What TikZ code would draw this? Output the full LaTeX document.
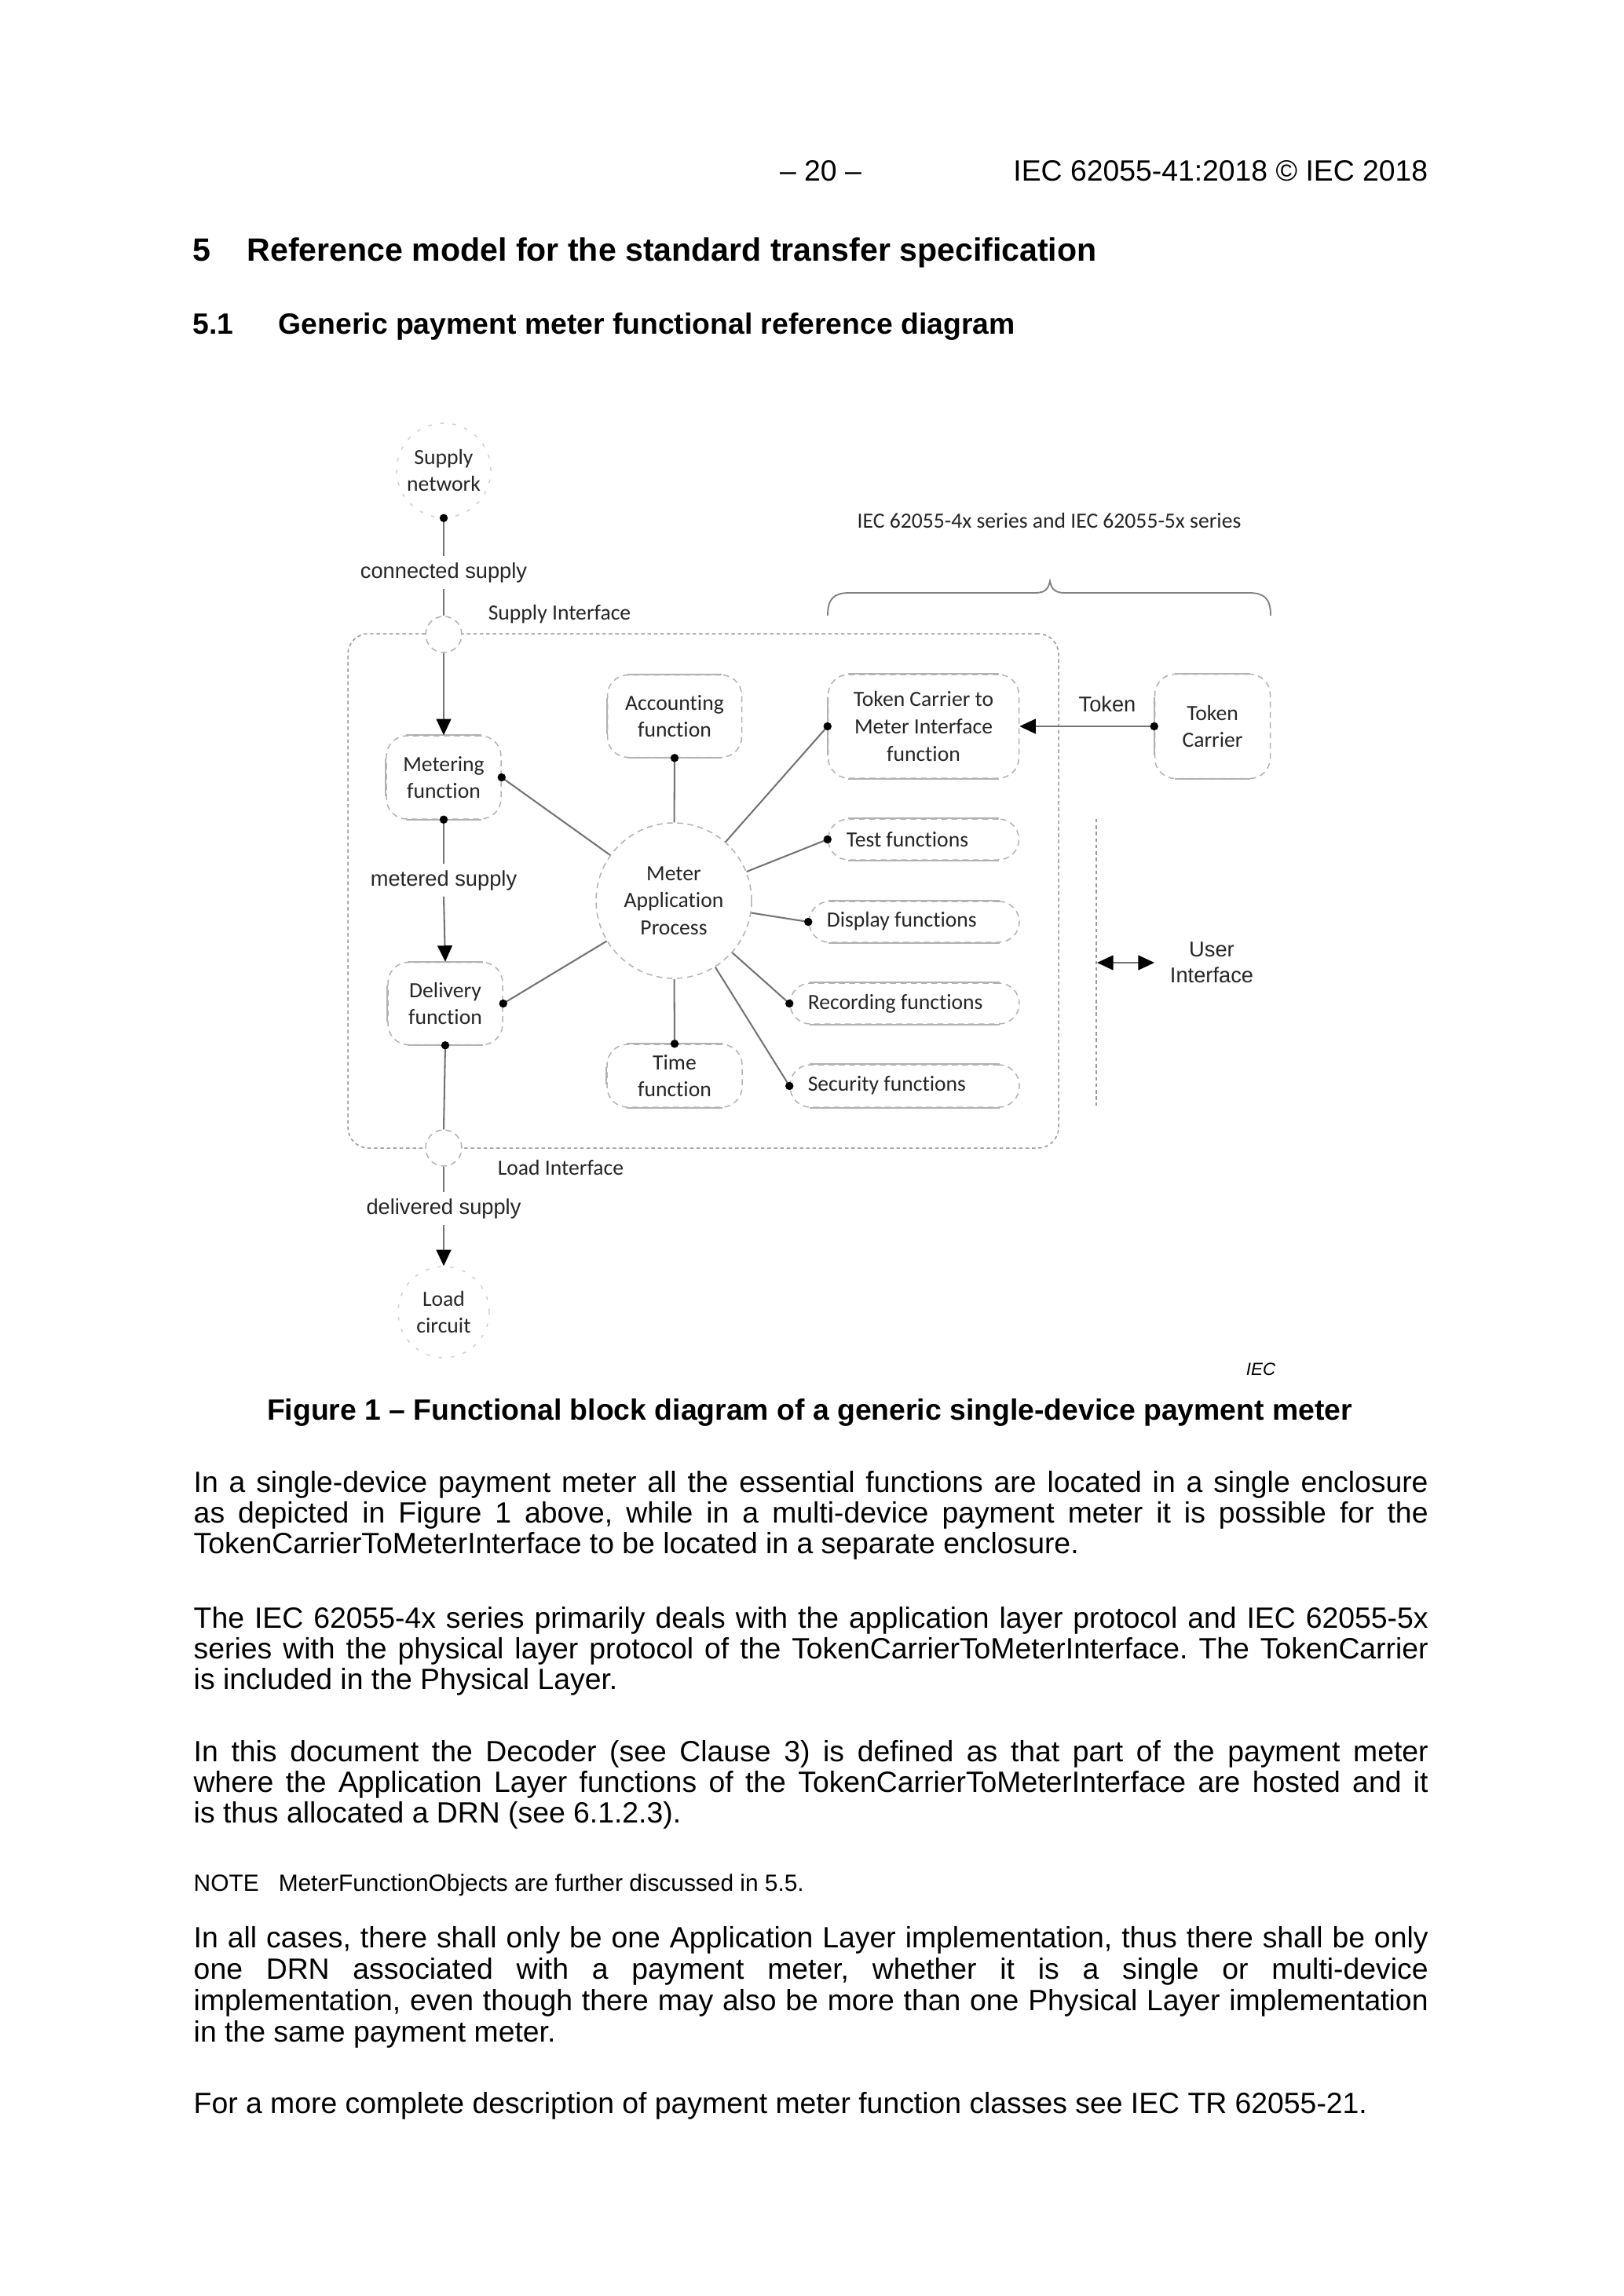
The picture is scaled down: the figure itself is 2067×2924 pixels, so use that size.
\documentclass[tikz,border=0pt]{standalone}
\usepackage{fontspec}
\setmainfont{Liberation Sans}
\newfontfamily\calfont[Ligatures={NoCommon,NoContextual}]{Carlito}
\usetikzlibrary{arrows.meta}
\frenchspacing
\def\u{0.2678pt}
\newcommand\jline[1]{\makebox[421pt][s]{#1}}
\newcommand\sedges[1]{\draw[edgeln] ([xshift=7pt]#1.north west) -- ([xshift=-7pt]#1.north east) ([xshift=7pt]#1.south west) -- ([xshift=-7pt]#1.south east);}
\newcommand\ledge[1]{\draw[edgeln] ([yshift=-8pt]#1.north west) -- ([yshift=8pt]#1.south west);}
\begin{document}
\begin{tikzpicture}[x=0.2678pt,y=-0.2678pt,
  body/.style={inner sep=0pt, font=\fontsize{10}{12}\selectfont},
  conn/.style={draw=black!55, line width=0.55pt},
  arr/.style={-{Triangle[length=5.5pt,width=5pt,color=black]}},
  fn/.style={draw=black!30, dash pattern=on 2pt off 1.5pt, line width=0.4pt, rounded corners=7pt, align=center,
     font=\calfont\fontsize{7.4}{9.3}\selectfont, text=black!85, inner sep=0pt},
  ring/.style={circle, draw=black!30, dash pattern=on 2pt off 1.5pt, line width=0.4pt, inner sep=0pt, align=center,
     font=\calfont\fontsize{7.4}{9.3}\selectfont, text=black!85},
  faint/.style={draw=black!18, dash pattern=on 1.2pt off 3pt},
  albl/.style={font=\fontsize{7.3}{8.9}\selectfont, inner sep=2pt, align=center, text=black!85},
  clbl/.style={font=\calfont\fontsize{7.4}{9.3}\selectfont, inner sep=0pt, text=black!85},
  edgeln/.style={draw=black!30, line width=0.5pt},
  dotc/.style={fill=black}
]
\useasboundingbox (0,0) rectangle (2067,2924);
\fill[white] (0,0) rectangle (2067,2924);

% ---------- page header and headings ----------
\node[body, anchor=base] (pg) at (1045,231) {\textendash\ 20 \textendash};
\node[body, anchor=base east] (hdr) at (1819,231) {IEC 62055-41:2018 \textcopyright\ IEC 2018};
\node[body, anchor=base west, font=\fontsize{11}{13}\selectfont\bfseries] (h5n) at (245,333) {5};
\node[body, anchor=base west, font=\fontsize{11}{13}\selectfont\bfseries] (h5) at (314,333) {Reference model for the standard transfer specification};
\node[body, anchor=base west, font=\fontsize{10}{12}\selectfont\bfseries] (h51n) at (245,426) {5.1};
\node[body, anchor=base west, font=\fontsize{10}{12}\selectfont\bfseries] (h51) at (354,426) {Generic payment meter functional reference diagram};

% ---------- diagram ----------
\node[fn, draw=black!40, dash pattern=on 1.2pt off 1pt, rounded corners=7pt, minimum width=905*\u, minimum height=655*\u] (encl) at (895.5,1134.5) {};

\node[ring, faint, minimum size=120*\u] (sn) at (565,599) {Supply\\network};
\node[ring, fill=white, minimum size=46*\u] (si) at (565,808) {};
\node[ring, fill=white, minimum size=46*\u] (li) at (565,1462) {};
\node[ring, faint, minimum size=116*\u] (lc) at (565,1671) {Load\\circuit};
\node[ring, minimum size=198*\u] (map) at (858,1147) {Meter\\Application\\Process};

\node[fn, minimum width=146*\u, minimum height=106*\u] (met) at (565,990) {Metering\\function};
\node[fn, minimum width=146*\u, minimum height=105*\u] (del) at (567,1278) {Delivery\\function};
\node[fn, minimum width=171*\u, minimum height=105*\u] (acc) at (859,912) {Accounting\\function};
\node[fn, minimum width=172*\u, minimum height=80*\u] (time) at (859,1370) {Time\\function};
\node[fn, minimum width=243*\u, minimum height=132*\u] (tcm) at (1176,925) {Token Carrier to\\Meter Interface\\function};
\node[fn, minimum width=147*\u, minimum height=133*\u] (tc) at (1544,925) {Token\\Carrier};
\node[fn, minimum width=243*\u, minimum height=52*\u] (test) at (1176,1069) {};
\node[fn, minimum width=268*\u, minimum height=52*\u] (disp) at (1164,1174) {};
\node[fn, minimum width=292*\u, minimum height=52*\u] (rec) at (1152,1278) {};
\node[fn, minimum width=292*\u, minimum height=54*\u] (sec) at (1152,1383) {};

\foreach \b in {met,del,acc,time,tcm,tc,test,disp,rec,sec} {\sedges{\b}}
\foreach \b in {met,del,acc,time,tcm,tc} {\ledge{\b}}

\node[clbl, anchor=west] (testl) at (1077,1069) {Test functions};
\node[clbl, anchor=west] (displ) at (1052,1173) {Display functions};
\node[clbl, anchor=west] (recl) at (1028,1278) {Recording functions};
\node[clbl, anchor=west] (secl) at (1028,1382) {Security functions};

\node[albl] (cs) at (565,729) {connected supply};
\node[albl] (ms) at (565,1121) {metered supply};
\node[albl] (ds) at (565,1539) {delivered supply};
\node[clbl, anchor=west] (sil) at (621,782) {Supply Interface};
\node[clbl, anchor=west] (lil) at (633,1487) {Load Interface};
\node[albl] (tok) at (1410,897) {Token};
\node[albl] (ui) at (1543,1226) {User\\Interface};
\node[clbl] (ser) at (1336,663) {IEC 62055-4x series and IEC 62055-5x series};

% supply chain
\draw[conn] (sn.south) -- (cs.north);
\draw[conn] (cs.south) -- (si.north);
\draw[conn,arr] (si.south) -- (met.north);
\draw[conn] (met.south) -- (ms.north);
\draw[conn,arr] (ms.south) -- (del.north);
\draw[conn] (del.south) -- (li.north);
\draw[conn] (li.south) -- (ds.north);
\draw[conn,arr] (ds.south) -- (lc.north);

% spokes of the meter application process
\foreach \t in {met.east, del.east, acc.south, time.north, tcm.west, test.west, disp.west, rec.west, sec.west}
  {\draw[conn] (map) -- (\t);}

% token
\draw[conn,arr] (tc.west) -- (tcm.east);

% dots
\foreach \p in {sn.south, met.south, met.east, del.east, del.south, acc.south, time.north, tcm.west, tc.west, test.west, disp.west, rec.west, sec.west}
  {\fill[dotc] (\p) circle (1.4pt);}

% user interface
\coordinate (uit) at (1396,1043);
\coordinate (uib) at (1396,1408);
\draw[draw=black!40, dash pattern=on 1.2pt off 1pt, line width=0.4pt] (uit) -- (uib);
\coordinate (uia) at (1397,1226);
\coordinate (uiz) at (1470,1226);
\draw[conn, {Triangle[length=5.5pt,width=5pt,color=black]}-{Triangle[length=5.5pt,width=5pt,color=black]}] (uia) -- (uiz);

% brace
\draw[draw=black!50, line width=0.5pt] (1054,784) .. controls (1054,762) and (1062,755) .. (1082,755) -- (1318,755)
   .. controls (1331,755) and (1335,750) .. (1337,740) .. controls (1339,750) and (1343,755) .. (1356,755)
   -- (1590,755) .. controls (1610,755) and (1618,762) .. (1618,784);

\node[body, anchor=base east, font=\fontsize{6}{7}\selectfont\itshape] (iec) at (1625,1751) {IEC};

% ---------- caption ----------
\node[body, anchor=base, font=\fontsize{10}{12}\selectfont\bfseries] (cap) at (1031,1808) {Figure 1 \textendash\ Functional block diagram of a generic single-device payment meter};

% ---------- body text ----------
\node[body, anchor=base west] (p1a) at (246,1900) {\jline{In a single-device payment meter all the essential functions are located in a single enclosure}};
\node[body, anchor=base west] (p1b) at (246,1939) {\jline{as depicted in Figure 1 above, while in a multi-device payment meter it is possible for the}};
\node[body, anchor=base west] (p1c) at (246,1978) {TokenCarrierToMeterInterface to be located in a separate enclosure.};

\node[body, anchor=base west] (p2a) at (246,2073) {\jline{The IEC 62055-4x series primarily deals with the application layer protocol and IEC 62055-5x}};
\node[body, anchor=base west] (p2b) at (246,2112) {\jline{series with the physical layer protocol of the TokenCarrierToMeterInterface. The TokenCarrier}};
\node[body, anchor=base west] (p2c) at (246,2151) {is included in the Physical Layer.};

\node[body, anchor=base west] (p3a) at (246,2243) {\jline{In this document the Decoder (see Clause 3) is defined as that part of the payment meter}};
\node[body, anchor=base west] (p3b) at (246,2282) {\jline{where the Application Layer functions of the TokenCarrierToMeterInterface are hosted and it}};
\node[body, anchor=base west] (p3c) at (246,2321) {is thus allocated a DRN (see 6.1.2.3).};

\node[body, anchor=base west, font=\fontsize{8}{10}\selectfont] (noteh) at (246,2408) {NOTE};
\node[body, anchor=base west, font=\fontsize{8}{10}\selectfont] (note) at (354,2408) {MeterFunctionObjects are further discussed in 5.5.};

\node[body, anchor=base west] (p4a) at (246,2480) {\jline{In all cases, there shall only be one Application Layer implementation, thus there shall be only}};
\node[body, anchor=base west] (p4b) at (246,2520) {\jline{one DRN associated with a payment meter, whether it is a single or multi-device}};
\node[body, anchor=base west] (p4c) at (246,2560) {\jline{implementation, even though there may also be more than one Physical Layer implementation}};
\node[body, anchor=base west] (p4d) at (246,2600) {in the same payment meter.};

\node[body, anchor=base west] (p5) at (246,2691) {For a more complete description of payment meter function classes see IEC TR 62055-21.};
\end{tikzpicture}
\end{document}
